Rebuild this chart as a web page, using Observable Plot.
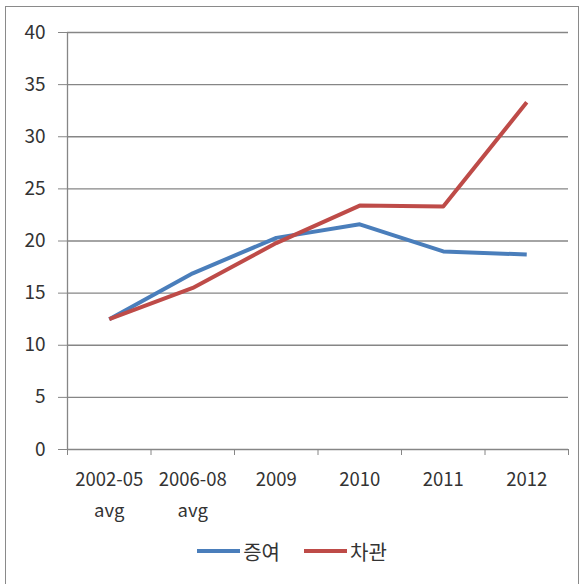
<!DOCTYPE html>
<html><head><meta charset="utf-8">
<script src="https://cdn.jsdelivr.net/npm/d3@7"></script>
<script src="https://cdn.jsdelivr.net/npm/@observablehq/plot@0.6"></script>
<style>
body{margin:0;background:#fff;font-family:"Noto Sans CJK KR","Noto Sans",sans-serif;}
#wrap{position:relative;width:584px;height:584px;overflow:hidden;}
#frame{position:absolute;left:5px;top:6px;width:574px;height:620px;border:1.5px solid #8a8a8a;box-sizing:border-box;}
#chart{position:absolute;left:0;top:0;}
#legend{position:absolute;left:0;top:531px;width:584px;height:40px;display:flex;justify-content:center;align-items:center;font-size:20px;color:#333;}
.item{display:flex;align-items:center;margin:0 12px;}
.sw{width:43px;height:4px;margin-right:3px;}
</style></head>
<body><div id="wrap"><div id="frame"></div><div id="chart"></div><div id="legend"></div></div>
<script>
const categories = ["2002-05\navg", "2006-08\navg", "2009", "2010", "2011", "2012"];
const seriesNames = ["증여", "차관"];
const grantValues = [12.5, 16.9, 20.3, 21.6, 19.0, 18.7];
const loanValues = [12.5, 15.5, 19.8, 23.4, 23.3, 33.3];
const seriesColors = ["#4A7EBB", "#BE4B48"];
const yTicks = [0, 5, 10, 15, 20, 25, 30, 35, 40];

const data = [];
categories.forEach((c, i) => {
  data.push({cat: c, idx: i + 0.5, value: grantValues[i], series: seriesNames[0]});
  data.push({cat: c, idx: i + 0.5, value: loanValues[i], series: seriesNames[1]});
});
const labels = categories.map((c, i) => ({label: c, idx: i + 0.5}));
const boundaries = d3.range(categories.length + 1);

const gray = "#868686";
const plot = Plot.plot({
  width: 584,
  height: 530,
  marginLeft: 67,
  marginRight: 16,
  marginTop: 32,
  marginBottom: 81,
  style: {fontFamily: "'Noto Sans CJK KR','Noto Sans',sans-serif", fontSize: "18px", color: "#333", background: "transparent"},
  x: {type: "linear", domain: [0, categories.length], axis: null},
  y: {domain: [0, 40], axis: null},
  color: {domain: seriesNames, range: seriesColors},
  marks: [
    Plot.ruleY(yTicks, {stroke: gray, strokeWidth: 1.3, strokeOpacity: 1}),
    Plot.ruleX([0], {stroke: gray, strokeWidth: 1.3}),
    Plot.axisY({ticks: yTicks, tickSize: 9, tickPadding: 13, stroke: gray, strokeOpacity: 1, fontSize: 19, fill: "#333", label: null}),
    Plot.axisX({ticks: boundaries, tickSize: 6, tickFormat: () => "", stroke: gray, strokeOpacity: 1, label: null}),
    Plot.text(labels, {x: "idx", text: "label", frameAnchor: "bottom", dy: 15, lineAnchor: "top", lineHeight: 1.67, fontSize: 18.5, fill: "#333"}),
    Plot.line(data, {x: "idx", y: "value", z: "series", stroke: "series", strokeWidth: 4, strokeLinejoin: "round", strokeLinecap: "butt"})
  ]
});
document.getElementById("chart").appendChild(plot);

const legend = document.getElementById("legend");
seriesNames.forEach((s, i) => {
  const it = document.createElement("div");
  it.className = "item";
  it.innerHTML = `<span class="sw" style="background:${seriesColors[i]}"></span><span>${s}</span>`;
  legend.appendChild(it);
});
</script></body></html>
